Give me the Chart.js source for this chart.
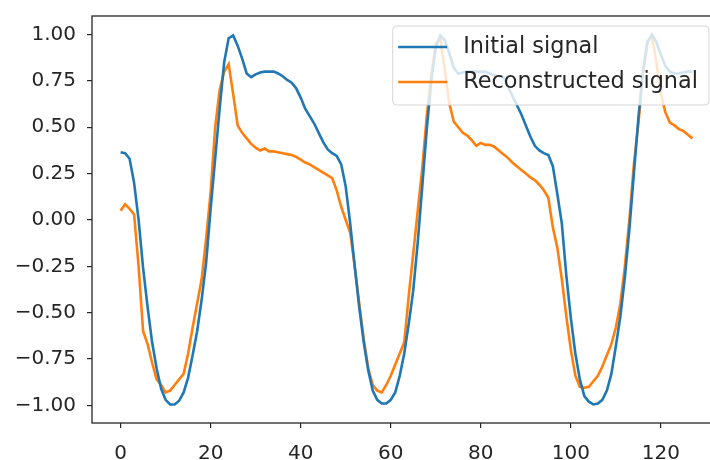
<!DOCTYPE html>
<html>
<head>
<meta charset="utf-8">
<script src="https://cdn.jsdelivr.net/npm/chart.js@4.4.1/dist/chart.umd.min.js"></script>
<style>
  html, body { margin: 0; padding: 0; background: #fff; overflow: hidden; width: 710px; height: 460px; }
  #wrap { width: 740px; height: 460px; }
</style>
</head>
<body>
<div id="wrap"><canvas id="myChart" width="740" height="460"></canvas></div>
<script>
// values, one per sample (index 0..127)
var initialSignal = [
  0.365, 0.36, 0.33, 0.20, 0.0, -0.26, -0.47, -0.66, -0.80, -0.91,
  -0.97, -0.995, -0.995, -0.975, -0.93, -0.85, -0.73, -0.60, -0.43, -0.23,
  0.06, 0.33, 0.60, 0.85, 0.98, 0.995, 0.94, 0.87, 0.79, 0.77,
  0.785, 0.795, 0.80, 0.80, 0.80, 0.79, 0.775, 0.755, 0.74, 0.71,
  0.66, 0.60, 0.56, 0.52, 0.47, 0.42, 0.38, 0.36, 0.345, 0.30,
  0.18, -0.02, -0.25, -0.47, -0.66, -0.81, -0.92, -0.97, -0.99, -0.99,
  -0.97, -0.93, -0.84, -0.72, -0.56, -0.38, -0.12, 0.18, 0.49, 0.75,
  0.93, 0.995, 0.97, 0.90, 0.82, 0.79, 0.795, 0.80, 0.80, 0.80,
  0.80, 0.80, 0.79, 0.78, 0.775, 0.77, 0.72, 0.67, 0.62, 0.57,
  0.51, 0.45, 0.40, 0.375, 0.36, 0.35, 0.29, 0.14, -0.02, -0.30,
  -0.53, -0.72, -0.86, -0.95, -0.98, -0.995, -0.99, -0.97, -0.92, -0.83,
  -0.68, -0.52, -0.31, -0.05, 0.25, 0.55, 0.80, 0.96, 1.0, 0.96,
  0.89, 0.83, 0.80, 0.79, 0.79, 0.795, 0.80, 0.80
];
var reconstructedSignal = [
  0.05, 0.085, 0.06, 0.03, -0.25, -0.60, -0.67, -0.77, -0.86, -0.89,
  -0.93, -0.92, -0.89, -0.86, -0.83, -0.72, -0.58, -0.45, -0.32, -0.10,
  0.15, 0.50, 0.70, 0.80, 0.84, 0.68, 0.51, 0.47, 0.44, 0.41,
  0.39, 0.375, 0.385, 0.37, 0.37, 0.365, 0.36, 0.355, 0.35, 0.34,
  0.325, 0.31, 0.30, 0.285, 0.27, 0.255, 0.24, 0.225, 0.16, 0.07,
  0.0, -0.07, -0.25, -0.45, -0.64, -0.80, -0.89, -0.92, -0.93, -0.89,
  -0.84, -0.78, -0.72, -0.66, -0.41, -0.18, 0.05, 0.28, 0.56, 0.78,
  0.95, 0.98, 0.81, 0.63, 0.53, 0.50, 0.47, 0.455, 0.43, 0.40,
  0.415, 0.405, 0.405, 0.395, 0.375, 0.355, 0.335, 0.31, 0.29, 0.27,
  0.25, 0.23, 0.215, 0.19, 0.16, 0.12, -0.04, -0.15, -0.32, -0.52,
  -0.70, -0.84, -0.90, -0.905, -0.90, -0.87, -0.84, -0.79, -0.73, -0.67,
  -0.58, -0.45, -0.25, 0.0, 0.30, 0.52, 0.78, 0.96, 0.99, 0.85,
  0.68, 0.58, 0.525, 0.51, 0.49, 0.48, 0.46, 0.44
];
var seriesLabels = ['Initial signal', 'Reconstructed signal'];
var xTicks = [0, 20, 40, 60, 80, 100, 120];
var yTicks = [-1.0, -0.75, -0.5, -0.25, 0.0, 0.25, 0.5, 0.75, 1.0];

var BLUE = '#1f77b4', ORANGE = '#ff7f0e';
var FONT = { family: 'DejaVu Sans', size: 20 };
var LEGEND_SIZE = 22.4;

function points(arr) {
  return arr.map(function (v, i) { return { x: i, y: v }; });
}

// spines + matplotlib-like legend drawn over the lines
var frameAndLegend = {
  id: 'frameAndLegend',
  afterDatasetsDraw: function (chart) {
    var ctx = chart.ctx, ca = chart.chartArea;
    ctx.save();
    ctx.strokeStyle = '#262626';
    ctx.lineWidth = 1.3;
    ctx.strokeRect(ca.left, ca.top, ca.right - ca.left, ca.bottom - ca.top);

    ctx.font = LEGEND_SIZE + 'px ' + FONT.family;
    var ds = chart.data.datasets;
    var tw = 0;
    ds.forEach(function (d) { tw = Math.max(tw, ctx.measureText(d.label).width); });
    var boxRight = ca.right - 12;
    var textStart = boxRight - 11 - tw;
    var handleEnd = textStart - 16;
    var handleStart = handleEnd - 49;
    var boxLeft = handleStart - 5.5;
    var boxTop = ca.top + 10, boxBottom = boxTop + 79;

    ctx.beginPath();
    ctx.roundRect(boxLeft, boxTop, boxRight - boxLeft, boxBottom - boxTop, 4);
    ctx.fillStyle = 'rgba(255,255,255,0.8)';
    ctx.fill();
    ctx.strokeStyle = 'rgba(204,204,204,0.8)';
    ctx.lineWidth = 1;
    ctx.stroke();

    ctx.textBaseline = 'middle';
    ctx.textAlign = 'left';
    ds.forEach(function (d, k) {
      var y = boxTop + 21 + k * 35;
      ctx.beginPath();
      ctx.moveTo(handleStart, y);
      ctx.lineTo(handleEnd, y);
      ctx.strokeStyle = d.borderColor;
      ctx.lineWidth = 2.6;
      ctx.stroke();
      ctx.fillStyle = '#262626';
      ctx.fillText(d.label, textStart, y);
    });
    ctx.restore();
  }
};

var ctx = document.getElementById('myChart').getContext('2d');
var myChart = new Chart(ctx, {
  type: 'line',
  data: {
    datasets: [{
      label: seriesLabels[0],
      data: points(initialSignal),
      borderColor: BLUE,
      borderWidth: 2.6,
      pointRadius: 0,
      tension: 0,
      fill: false
    }, {
      label: seriesLabels[1],
      data: points(reconstructedSignal),
      borderColor: ORANGE,
      borderWidth: 2.6,
      pointRadius: 0,
      tension: 0,
      fill: false
    }]
  },
  options: {
    responsive: false,
    animation: false,
    devicePixelRatio: 1,
    layout: { padding: { left: 0, top: 16, right: 19, bottom: 0 } },
    plugins: {
      legend: { display: false },
      tooltip: { enabled: false }
    },
    scales: {
      x: {
        type: 'linear',
        min: -6.35,
        max: 133.35,
        afterBuildTicks: function (axis) {
          axis.ticks = xTicks.map(function (v) { return { value: v }; });
        },
        afterFit: function (axis) {
          axis.height = 37;
          axis.paddingLeft = 0;
          axis.paddingRight = 0;
        },
        border: { display: false },
        grid: {
          drawOnChartArea: false,
          drawTicks: true,
          tickLength: 5,
          tickColor: '#262626',
          lineWidth: 1.2
        },
        ticks: {
          font: FONT,
          color: '#262626',
          padding: 14,
          maxRotation: 0,
          autoSkip: false,
          callback: function (v) { return String(v); }
        }
      },
      y: {
        type: 'linear',
        min: -1.095,
        max: 1.1,
        afterBuildTicks: function (axis) {
          axis.ticks = yTicks.map(function (v) { return { value: v }; });
        },
        afterFit: function (axis) {
          axis.width = 92;
          axis.paddingTop = 0;
          axis.paddingBottom = 0;
        },
        border: { display: false },
        grid: {
          drawOnChartArea: false,
          drawTicks: true,
          tickLength: 5,
          tickColor: '#262626',
          lineWidth: 1.2
        },
        ticks: {
          font: FONT,
          color: '#262626',
          padding: 11,
          autoSkip: false,
          callback: function (v) { return v.toFixed(2).replace('-', '\u2212'); }
        }
      }
    }
  },
  plugins: [frameAndLegend]
});
</script>
</body>
</html>
